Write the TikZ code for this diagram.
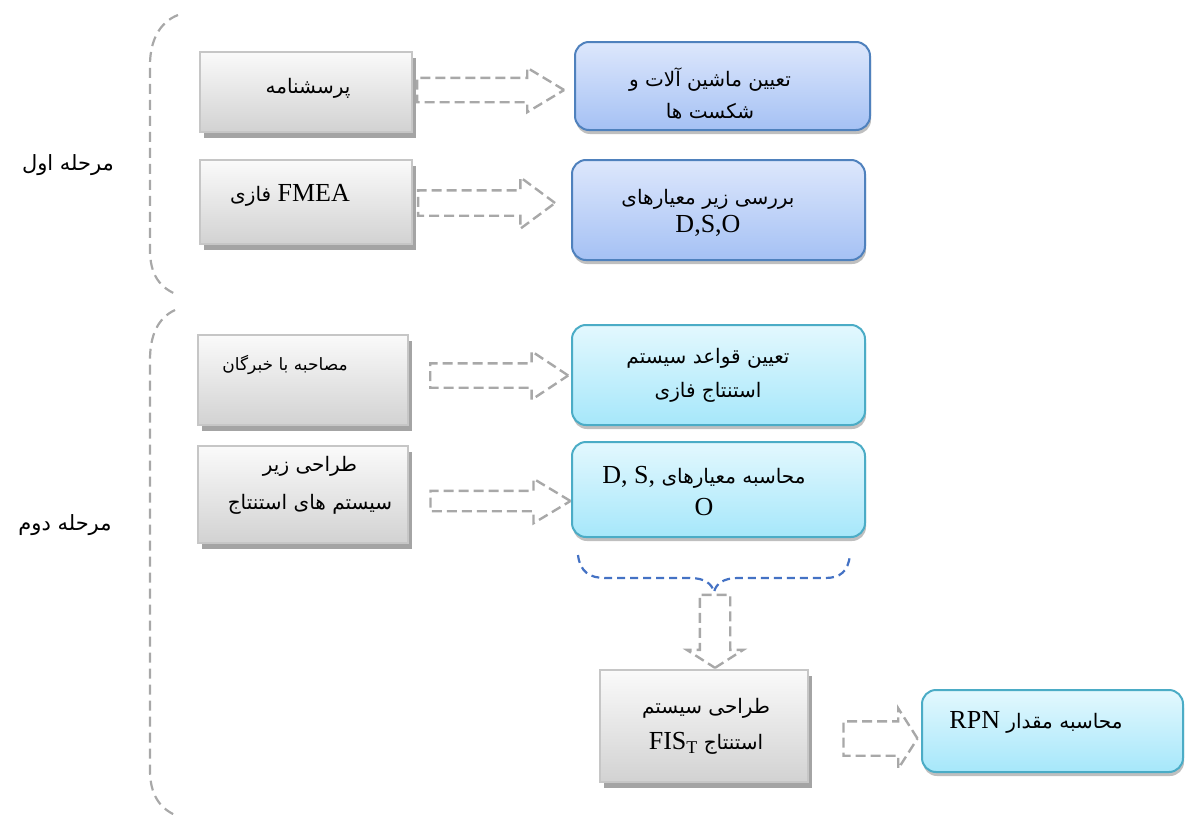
\documentclass[tikz,border=0pt]{standalone}
\usepackage{fontspec}
\setmainfont{Liberation Serif}
\newfontfamily\farsifont[Script=Arabic]{DejaVu Sans}
\TeXXeTstate=1
\usetikzlibrary{positioning,calc,shapes.arrows,shadows}

\definecolor{graytop}{HTML}{FAFAFA}
\definecolor{graybot}{HTML}{D2D2D2}
\definecolor{grayline}{HTML}{C6C6C6}
\definecolor{shadowgray}{HTML}{A4A4A4}
\definecolor{blueline}{HTML}{4F81BD}
\definecolor{bluetop}{HTML}{DDE7FC}
\definecolor{bluebot}{HTML}{A5C1F4}
\definecolor{cyanline}{HTML}{4BACC6}
\definecolor{cyantop}{HTML}{E3F8FE}
\definecolor{cyanbot}{HTML}{A6E7FA}
\definecolor{dashgray}{HTML}{A8A8A8}
\definecolor{braceblue}{HTML}{4472C4}

\newcommand{\fa}[1]{{\farsifont\fontsize{10}{12}\selectfont\beginR #1\endR}}
\newcommand{\latinpart}[1]{\beginL{\rmfamily\fontsize{13}{15}\selectfont #1}\endL}

\tikzset{
  graybox/.style={draw=grayline, line width=1pt, top color=graytop, bottom color=graybot,
    inner sep=0pt, drop shadow={shadow xshift=2pt, shadow yshift=-3pt, fill=shadowgray, opacity=1}},
  bluebox/.style={draw=blueline, line width=1pt, rounded corners=7pt, top color=bluetop,
    bottom color=bluebot, inner sep=0pt,
    drop shadow={shadow xshift=0.5pt, shadow yshift=-2pt, fill=black, opacity=0.25}},
  cyanbox/.style={bluebox, draw=cyanline, top color=cyantop, bottom color=cyanbot},
  boxtext/.style={align=center, inner sep=0pt},
  hollowarrow/.style={single arrow, draw=dashgray, line width=1.2pt, dash pattern=on 5pt off 2.5pt,
    inner xsep=0pt, minimum width=0pt, fill=none},
  bracket/.style={draw=dashgray, line width=1.1pt, dash pattern=on 5pt off 3pt},
  bluebrace/.style={draw=braceblue, line width=1.1pt, dash pattern=on 4pt off 2.5pt}
}

\begin{document}
\begin{tikzpicture}[x=0.5pt,y=-0.5pt]
  \useasboundingbox (0,0) rectangle (1185,819);

  % phase brackets
  \draw[bracket] (178,15) .. controls (160,22) and (150,40) .. (150,65) -- (150,250)
    .. controls (150,275) and (160,288) .. (178,295);
  \draw[bracket] (175,310) .. controls (158,318) and (150,335) .. (150,360) -- (150,770)
    .. controls (150,795) and (160,808) .. (175,815);
  \node[boxtext] (phaseone) at (68,165) {{\farsifont\fontsize{10.5}{12}\selectfont\beginR مرحله اول\endR}};
  \node[boxtext] (phasetwo) at (65,525) {{\farsifont\fontsize{10.5}{12}\selectfont\beginR مرحله دوم\endR}};

  % left boxes
  \node[graybox, minimum width=106pt, minimum height=40pt] (quest) at (306,92) {};
  \node[graybox, minimum width=106pt, minimum height=42pt] (fmea) at (306,202) {};
  \node[graybox, minimum width=105pt, minimum height=45pt] (interview) at (303,380) {};
  \node[graybox, minimum width=105pt, minimum height=48.5pt] (subsys) at (303,494.5) {};
  \node[graybox, minimum width=104pt, minimum height=56pt] (fis) at (704,726) {};

  % right boxes
  \node[bluebox, minimum width=147.5pt, minimum height=44pt] (machines) at (722.5,86) {};
  \node[bluebox, minimum width=146.5pt, minimum height=50pt] (criteria) at (718.5,210) {};
  \node[cyanbox, minimum width=146.5pt, minimum height=50pt] (rules) at (718.5,375) {};
  \node[cyanbox, minimum width=146.5pt, minimum height=47.5pt] (calcdso) at (718.5,489.5) {};
  \node[cyanbox, minimum width=130.5pt, minimum height=41pt] (rpn) at (1052.5,731) {};

  % texts
  \node[boxtext] (questtxt) at (308,88) {\fa{پرسشنامه}};
  \node[boxtext] (fmeatxt) at (290,195) {\fa{\latinpart{FMEA} فازی}};
  \node[boxtext] (interviewtxt) at (285,365) {{\farsifont\fontsize{8.5}{10}\selectfont\beginR مصاحبه با خبرگان\endR}};
  \node[boxtext] (subsystxt) at (310,485) {\fa{طراحی زیر}\\[7pt]\fa{سیستم های استنتاج}};
  \node[boxtext] (fistxt) at (706,726) {\fa{طراحی سیستم}\\[6pt]\fa{استنتاج \latinpart{FIS\raisebox{-0.35ex}{\fontsize{9}{9}\selectfont T}}}};
  \node[boxtext] (machinestxt) at (710,93) {\fa{تعیین ماشین آلات و}\\[4pt]\fa{شکست ها}};
  \node[boxtext] (criteriatxt) at (708,213) {\fa{بررسی زیر معیارهای}\\[2pt]{\fontsize{13}{15}\selectfont D,S,O}};
  \node[boxtext] (rulestxt) at (708,375) {\fa{تعیین قواعد سیستم}\\[5pt]\fa{استنتاج فازی}};
  \node[boxtext] (calcdsotxt) at (704,491) {\fa{محاسبه معیارهای \latinpart{D, S,}}\\[4pt]{\fontsize{13}{15}\selectfont O}};
  \node[boxtext] (rpntxt) at (1036,722) {\fa{محاسبه مقدار \latinpart{RPN}}};

  % hollow arrows
  \node[hollowarrow, minimum height=73.5pt, inner ysep=5.5pt, single arrow head extend=5pt,
    single arrow tip angle=62] (arrq) at ($(quest.east)!0.5!(machines.west)+(-13,1)$) {};
  \node[hollowarrow, minimum height=68.5pt, inner ysep=5.75pt, single arrow head extend=6.5pt,
    single arrow tip angle=73] (arrf) at ($(fmea.east)!0.5!(criteria.west)+(-14,-3)$) {};
  \node[hollowarrow, minimum height=69pt, inner ysep=5.5pt, single arrow head extend=6pt,
    single arrow tip angle=67] (arri) at ($(interview.east)!0.5!(rules.west)+(0,-2)$) {};
  \node[hollowarrow, minimum height=70pt, inner ysep=4.5pt, single arrow head extend=6pt,
    single arrow tip angle=62] (arrs) at ($(subsys.east)!0.5!(calcdso.west)+(2,9)$) {};

  % brace under the calculation boxes
  \coordinate (dip) at (714,592);
  \draw[bluebrace] (578,555) .. controls (580,572) and (590,578) .. (605,578) -- (690,578)
    .. controls (705,578) and (712,584) .. (dip) .. controls (716,584) and (723,578) .. (738,578)
    -- (825,578) .. controls (840,578) and (848,572) .. (850,555);

  \node[hollowarrow, shape border rotate=270, minimum height=36.5pt, inner xsep=7pt, inner ysep=0pt,
    single arrow head extend=6.5pt, single arrow tip angle=115] (arrd) at ($(dip)!0.5!(fis.north)+(6,-4)$) {};
  \node[hollowarrow, minimum height=37pt, inner ysep=8pt, single arrow head extend=6.5pt,
    single arrow tip angle=115] (arrr) at ($(fis.east)!0.5!(rpn.west)+(10,10)$) {};
\end{tikzpicture}
\end{document}
